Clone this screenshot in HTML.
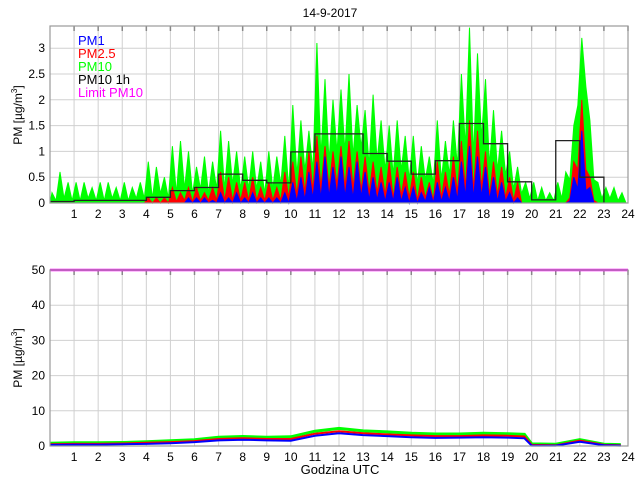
<!DOCTYPE html>
<html><head><meta charset="utf-8"><style>
body{margin:0;background:#fff;}
svg{display:block;font-family:"Liberation Sans",sans-serif;}
</style></head><body>
<svg id="chart" width="640" height="480" viewBox="0 0 640 480" xmlns="http://www.w3.org/2000/svg">
<text x="330" y="17" font-size="12" text-anchor="middle">14-9-2017</text>
<g id="top"></g><g id="bot"></g>
<text x="78" y="45" font-size="13" fill="#0000ff">PM1</text>
<text x="78" y="58" font-size="13" fill="#ff0000">PM2.5</text>
<text x="78" y="71" font-size="13" fill="#00ff00">PM10</text>
<text x="78" y="84" font-size="13" fill="#000">PM10 1h</text>
<text x="78" y="97" font-size="13" fill="#ff00ff">Limit PM10</text>
<text transform="translate(22,115) rotate(-90)" font-size="12" text-anchor="middle">PM [µg/m<tspan font-size="8" dy="-5">3</tspan><tspan dy="5">]</tspan></text>
<text transform="translate(22,358) rotate(-90)" font-size="12" text-anchor="middle">PM [µg/m<tspan font-size="8" dy="-5">3</tspan><tspan dy="5">]</tspan></text>
<text x="340" y="474" font-size="13" text-anchor="middle">Godzina UTC</text>
</svg>
<script>
const hourTicks=[1,2,3,4,5,6,7,8,9,10,11,12,13,14,15,16,17,18,19,20,21,22,23,24];
const topYTicks=[0,0.5,1,1.5,2,2.5,3];
const botYTicks=[0,10,20,30,40,50];
const pm10_10min=[
0.2,0.05,0.6,0.1,0.4,0.05, 0.4,0.05,0.4,0.1,0.3,0.05, 0.4,0.05,0.4,0.1,0.3,0.05, 0.4,0.05,0.3,0.1,0.4,0.1,
0.8,0.1,0.7,0.2,0.5,0.1, 1.1,0.2,1.2,0.3,1.0,0.2, 0.7,0.3,0.9,0.2,0.8,0.3, 1.4,0.3,1.2,0.4,1.0,0.3,
0.9,0.3,1.0,0.3,0.8,0.2, 1.0,0.3,0.9,0.4,1.3,0.3, 1.9,0.6,1.6,0.7,1.4,0.7, 3.1,1.0,2.4,0.9,2.0,1.1,
2.2,1.1,2.5,1.0,1.9,1.2, 1.8,0.8,2.1,0.9,1.6,0.7, 1.5,0.6,1.6,0.7,1.3,0.5, 1.3,0.4,1.1,0.5,0.9,0.4,
1.6,0.5,1.2,0.6,1.6,0.8, 2.5,1.2,3.4,1.0,2.9,1.4, 2.4,0.8,1.8,0.7,1.4,0.6, 1.0,0.3,0.7,0.2,0.4,0.1,
0.4,0.05,0.3,0.05,0.2,0.05, 0.4,0.1,0.6,0.5,1.5,2.1, 3.2,2.5,1.6,0.5,0.4,0.1, 0.3,0.1,0.3,0.05,0.2,0];
const pm25_10min=[
0,0,0,0,0,0, 0,0,0,0,0,0, 0,0,0,0,0,0, 0,0,0,0,0,0,
0.1,0,0.1,0,0.1,0, 0.3,0.05,0.2,0.1,0.3,0.05, 0.3,0.1,0.2,0.1,0.3,0.1, 0.6,0.1,0.5,0.1,0.4,0.1,
0.4,0.1,0.5,0.1,0.3,0.1, 0.4,0.1,0.3,0.1,0.6,0.2, 0.8,0.3,0.9,0.4,1.0,0.5, 1.3,0.6,1.1,0.6,1.0,0.7,
1.1,0.6,1.2,0.6,1.0,0.5, 0.9,0.4,0.8,0.4,0.7,0.3, 0.8,0.2,0.7,0.3,0.6,0.2, 0.6,0.1,0.5,0.2,0.4,0.1,
0.8,0.2,0.6,0.3,0.9,0.4, 1.2,0.6,1.6,0.5,1.4,0.6, 1.0,0.3,0.8,0.3,0.7,0.2, 0.5,0.1,0.4,0,0,0,
0,0,0,0,0,0, 0,0,0,0.2,0.8,1.3, 2.0,1.3,0.5,0.1,0,0, 0,0,0,0,0,0];
const pm1_10min=[
0,0,0,0,0,0, 0,0,0,0,0,0, 0,0,0,0,0,0, 0,0,0,0,0,0,
0,0,0,0,0,0, 0,0,0,0,0.1,0, 0.1,0,0.1,0,0.05,0, 0.2,0,0.1,0,0.2,0,
0.1,0,0.2,0,0.1,0, 0.1,0,0.1,0,0.2,0, 0.4,0.1,0.5,0.2,0.6,0.3, 0.8,0.3,0.9,0.4,0.7,0.5,
0.9,0.4,0.7,0.3,0.8,0.4, 0.6,0.2,0.5,0.2,0.4,0.1, 0.4,0.1,0.5,0.1,0.3,0, 0.3,0,0.2,0.1,0.3,0,
0.4,0.1,0.3,0.1,0.5,0.2, 0.8,0.4,1.1,0.3,0.9,0.4, 0.7,0.2,0.5,0.1,0.4,0.1, 0.2,0,0.1,0,0,0,
0,0,0,0,0,0, 0,0,0,0.1,0.5,0.9, 1.4,0.8,0.3,0,0,0, 0,0,0,0,0,0];
const pm10_1h=[0.03,0.05,0.05,0.05,0.11,0.24,0.30,0.56,0.44,0.39,0.99,1.34,1.34,0.96,0.81,0.56,0.82,1.54,1.15,0.41,0.06,1.21,0.50];
const botHours=[0,1,2,3,4,5,6,7,8,9,10,11,12,13,14,15,16,17,18,19,19.7,20,21,22,23,23.7];
const botPM10=[0.8,0.9,0.9,1.0,1.2,1.5,1.8,2.5,2.7,2.5,2.6,4.2,5.0,4.3,4.0,3.6,3.4,3.4,3.6,3.5,3.3,0.6,0.5,1.8,0.5,0.4];
const botPM25=[0.5,0.6,0.6,0.7,0.9,1.1,1.4,2.0,2.2,2.0,2.0,3.5,4.2,3.6,3.3,3.0,2.8,2.8,3.0,2.9,2.7,0.3,0.2,1.5,0.3,0.2];
const botPM1=[0.3,0.4,0.4,0.5,0.6,0.8,1.1,1.6,1.8,1.6,1.5,2.9,3.6,3.1,2.8,2.5,2.3,2.4,2.5,2.4,2.2,0.1,0.1,1.2,0.2,0.1];
const limitPM10=50;

const NS="http://www.w3.org/2000/svg";
const X0=50,X1=628;
const xs=h=>X0+h*(X1-X0)/24;
const yTop=v=>203-v*51.6;
const yBot=v=>446-v*3.52;
function mk(tag,attrs,parent){const e=document.createElementNS(NS,tag);for(const k in attrs)e.setAttribute(k,attrs[k]);parent.appendChild(e);return e;}

function axes(g,yf,ticks,yTopPx,yBotPx,label){
  for(const t of ticks){
    const l=mk('line',{x1:X0,x2:X1,y1:yf(t),y2:yf(t),stroke:'#d0d0d0','stroke-width':1},g);
    
    
    const tx=mk('text',{x:45,y:yf(t)+4,'font-size':12,'text-anchor':'end'},g);
    
    
    tx.textContent=String(t);
  }
  for(const h of hourTicks){
    const l=mk('line',{x1:xs(h),x2:xs(h),y1:yTopPx,y2:yBotPx,stroke:'#d0d0d0','stroke-width':1},g);
    
    
    const tk=mk('line',{x1:xs(h),x2:xs(h),y1:yTopPx,y2:yTopPx+5,stroke:'#888','stroke-width':1.5},g);
    
    
    const tx=mk('text',{x:xs(h),y:yBotPx+15,'font-size':12,'text-anchor':'middle'},g);
    
    
    tx.textContent=String(h);
  }
}
function spikes(g,arr,color,name,trough){
  let d='M'+xs(0)+','+yTop(0);
  arr.forEach((v,i)=>{const vv=(i%2)?v*trough:v;d+=' L'+xs((i+0.5)/6).toFixed(1)+','+yTop(vv).toFixed(1);});
  d+=' L'+xs(24)+','+yTop(0)+' Z';
  const p=mk('path',{d:d,fill:color,stroke:color,'stroke-width':1,'stroke-linejoin':'miter'},g);
  
  
}
function line(g,xsArr,ys,yf,color,name,w){
  const pts=xsArr.map((h,i)=>xs(h).toFixed(1)+','+yf(ys[i]).toFixed(1)).join(' ');
  const p=mk('polyline',{points:pts,fill:'none',stroke:color,'stroke-width':w},g);
  
  
}

const gt=document.getElementById('top');
axes(gt,yTop,topYTicks,26,203,'top');
spikes(gt,pm10_10min,'#00ff00','pm10-series',0.9);
spikes(gt,pm25_10min,'#ff0000','pm25-series',0.5);
spikes(gt,pm1_10min,'#0000ff','pm1-series',0.3);
let sd='';
pm10_1h.forEach((v,i)=>{sd+=(i?' L':'M')+xs(i)+','+yTop(v).toFixed(1)+' L'+xs(i+1)+','+yTop(v).toFixed(1);});
sd+=' L'+xs(pm10_1h.length)+','+yTop(0);
const st=mk('path',{d:sd,fill:'none',stroke:'#222','stroke-width':1.3},gt);


const f1=mk('rect',{x:X0,y:26,width:X1-X0,height:177,fill:'none',stroke:'#999','stroke-width':1.2},gt);



const gb=document.getElementById('bot');
axes(gb,yBot,botYTicks,270,446,'bottom');
line(gb,botHours,botPM10,yBot,'#00ff00','bottom-pm10-line',3);
line(gb,botHours,botPM25,yBot,'#ff0000','bottom-pm25-line',2);
line(gb,botHours,botPM1,yBot,'#0000ff','bottom-pm1-line',2);
const lm=mk('line',{x1:X0,x2:X1,y1:yBot(limitPM10),y2:yBot(limitPM10),stroke:'#ff00ff','stroke-width':2.5},gb);


const f2=mk('rect',{x:X0,y:270,width:X1-X0,height:176,fill:'none',stroke:'#999','stroke-width':1.2},gb);


</script>
</body></html>
